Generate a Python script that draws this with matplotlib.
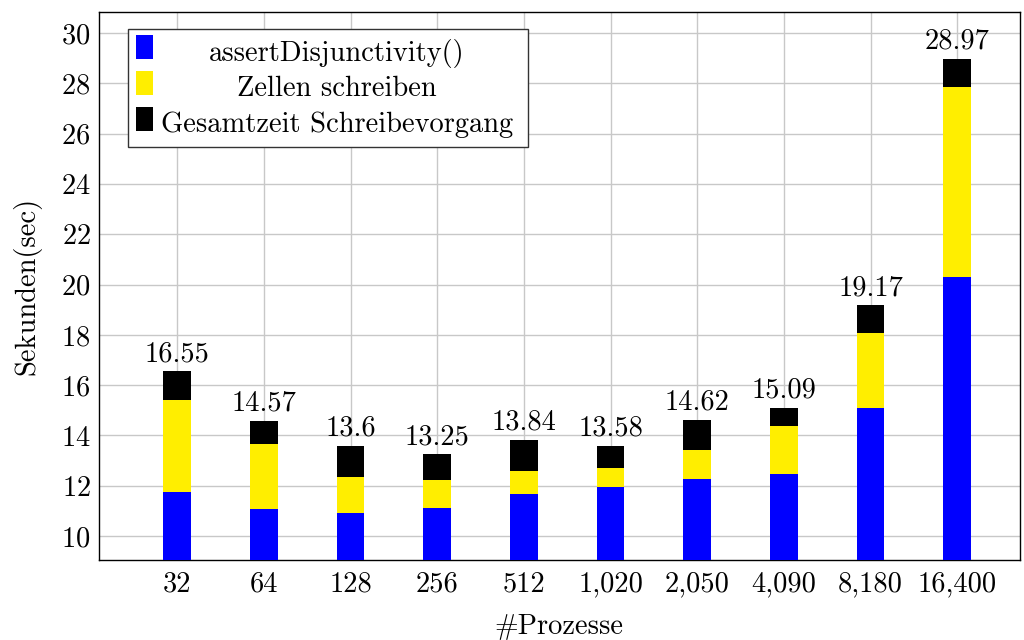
import matplotlib.pyplot as plt
from matplotlib.patches import Rectangle

plt.rcParams['font.family'] = 'serif'
plt.rcParams['font.serif'] = ['cmr10']
plt.rcParams['mathtext.fontset'] = 'cm'
plt.rcParams['axes.formatter.use_mathtext'] = True

FS = 20.5

# Prozesse und gemessene Zeiten (Sekunden)
prozesse = ['32', '64', '128', '256', '512', '1,020', '2,050', '4,090', '8,180', '16,400']
assert_disj = [11.74, 11.07, 10.90, 11.13, 11.67, 11.94, 12.27, 12.45, 15.09, 20.32]
zellen = [3.69, 2.61, 1.45, 1.09, 0.93, 0.76, 1.15, 1.94, 2.98, 7.52]
gesamt = [16.55, 14.57, 13.6, 13.25, 13.84, 13.58, 14.62, 15.09, 19.17, 28.97]

# oberster Teil = Rest bis zur Gesamtzeit
rest = [g - a - z for g, a, z in zip(gesamt, assert_disj, zellen)]
basis_rest = [a + z for a, z in zip(assert_disj, zellen)]

fig = plt.figure(figsize=(10.24, 6.4), dpi=100)
ax = fig.add_axes([0.0967, 0.125, 0.899, 0.856])

x = list(range(len(prozesse)))
w = 0.32
ax.bar(x, assert_disj, w, color='#0000ff', zorder=3)
ax.bar(x, zellen, w, bottom=assert_disj, color='#ffee00', zorder=3)
ax.bar(x, rest, w, bottom=basis_rest, color='black', zorder=3)

for xi, g in zip(x, gesamt):
    ax.annotate(f'{g:g}', (xi, g), xytext=(0, 3), textcoords='offset points',
                ha='center', va='bottom', fontsize=FS, zorder=4)

ax.set_xlim(-0.902, 9.72)
ax.set_ylim(9.05, 30.83)
ax.set_yticks(range(10, 31, 2))
ax.set_xticks(x)
ax.set_xticklabels(prozesse)
ax.tick_params(length=0, labelsize=FS)
ax.tick_params(axis='x', pad=8)
ax.tick_params(axis='y', pad=6)
ax.grid(True, color='#c8c8c8', linewidth=1, zorder=0)
for s in ax.spines.values():
    s.set_linewidth(1)

ax.set_xlabel('#Prozesse', fontsize=FS, labelpad=12)
ax.set_ylabel('Sekunden(sec)', fontsize=FS, labelpad=14)

# Legende mit zentrierten Einträgen
def px(xp, yp):
    return ((xp - 99) / (1020 - 99), (560 - yp) / (560 - 12))

x0, y0 = px(128, 147)
x1, y1 = px(528, 29)
ax.add_patch(Rectangle((x0, y0), x1 - x0, y1 - y0, transform=ax.transAxes,
                       facecolor='white', edgecolor='#333333', linewidth=1, zorder=5))
eintraege = ['assertDisjunctivity()', 'Zellen schreiben', 'Gesamtzeit Schreibevorgang']
farben = ['#0000ff', '#ffee00', 'black']
for i, (txt, col) in enumerate(zip(eintraege, farben)):
    top = 35 + i * 36
    sx0, sy0 = px(136, top + 24)
    sx1, sy1 = px(153, top)
    ax.add_patch(Rectangle((sx0, sy0), sx1 - sx0, sy1 - sy0, transform=ax.transAxes,
                           facecolor=col, edgecolor='none', zorder=6))
    tx, ty = px(337, top + 18)
    ax.text(tx, ty, txt, transform=ax.transAxes, ha='center', va='center',
            fontsize=FS, zorder=6)

fig.savefig('out.png', dpi=100)
